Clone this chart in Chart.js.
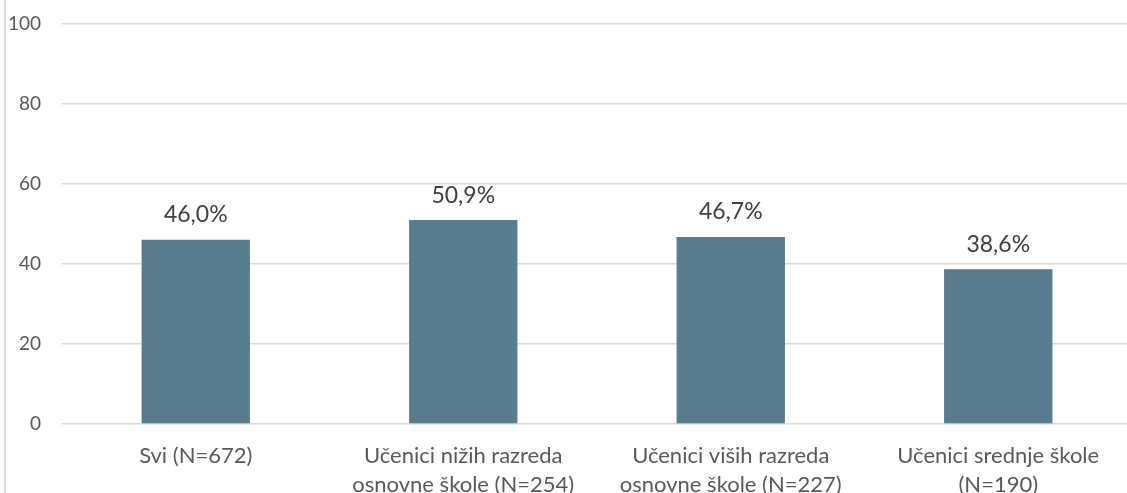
<!DOCTYPE html>
<html>
<head>
<meta charset="utf-8">
<script src="https://cdn.jsdelivr.net/npm/chart.js@4"></script>
<style>
  html, body { margin: 0; padding: 0; background: #fff; overflow: hidden; }
  #wrap { position: relative; width: 1127px; height: 493px; overflow: hidden; }
  #frame { position: absolute; left: 4px; top: 0; width: 2px; height: 493px; background: #d9d9d9; }
  canvas { position: absolute; left: 0; top: -9px; }
</style>
</head>
<body>
<div id="wrap">
  <canvas id="chart" width="1132" height="502"></canvas>
  <div id="frame"></div>
</div>
<script>
const categories = [
    ["Svi (N=672)"],
    ["Učenici nižih razreda", "osnovne škole (N=254)"],
    ["Učenici viših razreda", "osnovne škole (N=227)"],
    ["Učenici srednje škole", "(N=190)"]
];
const values = [46.0, 50.9, 46.7, 38.6];
const yTicks = [0, 20, 40, 60, 80, 100];

const FONT = "Lato, 'Liberation Sans', sans-serif";

// value labels above bars
const barLabels = {
    id: "barLabels",
    afterDatasetsDraw(chart) {
        const ctx = chart.ctx;
        const meta = chart.getDatasetMeta(0);
        ctx.save();
        ctx.font = "23px " + FONT;
        ctx.fillStyle = "#404040";
        ctx.textAlign = "center";
        ctx.textBaseline = "middle";
        meta.data.forEach((bar, i) => {
            ctx.fillText(values[i].toFixed(1).replace(".", ",") + "%", bar.x, bar.y - 25);
        });
        ctx.restore();
    }
};

new Chart(document.getElementById("chart"), {
    type: "bar",
    data: {
        labels: categories,
        datasets: [{
            data: values,
            backgroundColor: "#587c8e",
            categoryPercentage: 1,
            barPercentage: 0.405
        }]
    },
    options: {
        responsive: false,
        animation: false,
        layout: { padding: { top: 6, right: 0, left: 0, bottom: 0 } },
        plugins: {
            legend: { display: false },
            tooltip: { enabled: false }
        },
        scales: {
            x: {
                grid: { display: false, drawTicks: false },
                border: { display: false },
                ticks: {
                    color: "#595959",
                    font: { family: FONT, size: 22, lineHeight: 1.3 },
                    padding: 18,
                    maxRotation: 0,
                    autoSkip: false
                },
                afterFit(scale) { scale.height = 69; }
            },
            y: {
                min: 0,
                max: 100,
                afterBuildTicks(scale) { scale.ticks = yTicks.map(v => ({ value: v })); },
                grid: { color: "#d9d9d9", lineWidth: 1.5, drawTicks: false },
                border: { display: false },
                ticks: {
                    color: "#595959",
                    font: { family: FONT, size: 19 },
                    padding: 21
                },
                afterFit(scale) { scale.width = 62; }
            }
        }
    },
    plugins: [barLabels]
});
</script>
</body>
</html>
